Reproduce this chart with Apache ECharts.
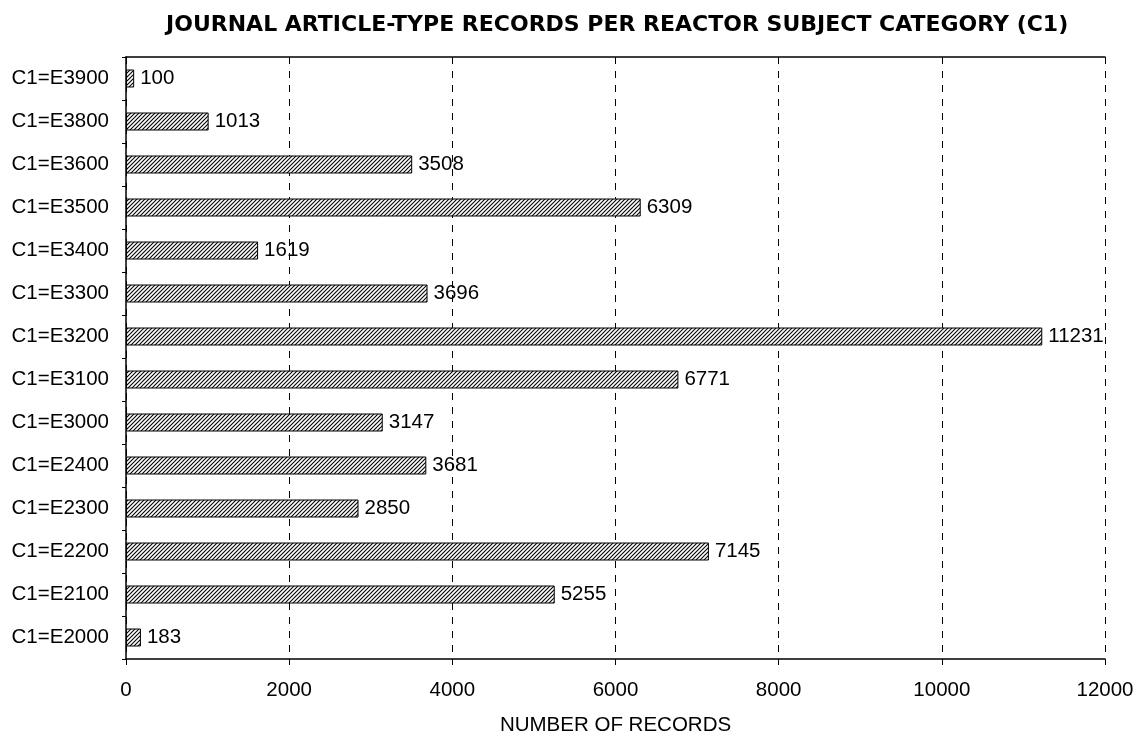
<!DOCTYPE html>
<html><head><meta charset="utf-8">
<script src="https://cdn.jsdelivr.net/npm/echarts@6/dist/echarts.min.js"></script>
<style>html,body{margin:0;padding:0;background:#fff}#c{width:1142px;height:738px}</style>
</head><body><div id="c"></div>
<script>
const categories = ['C1=E2000','C1=E2100','C1=E2200','C1=E2300','C1=E2400','C1=E3000','C1=E3100','C1=E3200','C1=E3300','C1=E3400','C1=E3500','C1=E3600','C1=E3800','C1=E3900'];
const records = [183,5255,7145,2850,3681,3147,6771,11231,3696,1619,6309,3508,1013,100];
const xTicks = {min:0, max:12000, interval:2000};

const pc = document.createElement('canvas');
pc.width = 4; pc.height = 4;
const g = pc.getContext('2d');
g.fillStyle = '#fff'; g.fillRect(0,0,4,4);
g.strokeStyle = '#000'; g.lineWidth = 1.1;
g.beginPath(); g.moveTo(-1,5); g.lineTo(5,-1); g.stroke();
g.beginPath(); g.moveTo(-1,1); g.lineTo(1,-1); g.stroke();
g.beginPath(); g.moveTo(3,5); g.lineTo(5,3); g.stroke();

const font = 'Liberation Sans, Arial, sans-serif';
const fs = 20.5;
const chart = echarts.init(document.getElementById('c'), null, {renderer:'canvas'});
chart.setOption({
  animation:false,
  backgroundColor:'#fff',
  title:{text:'JOURNAL ARTICLE-TYPE RECORDS PER REACTOR SUBJECT CATEGORY (C1)', left:161, top:9,
    textStyle:{fontFamily:'DejaVu Sans', fontSize:22, fontWeight:'bold', color:'#000'}},
  grid:{left:126, right:37, top:57, bottom:79, containLabel:false, outerBoundsMode:'none'},
  xAxis:[{type:'value', min:xTicks.min, max:xTicks.max, interval:xTicks.interval, position:'bottom',
    name:'NUMBER OF RECORDS', nameLocation:'middle', nameGap:56,
    nameTextStyle:{fontFamily:font, fontSize:fs, color:'#000'},
    axisLine:{show:true, lineStyle:{color:'#000', width:1.5}},
    axisTick:{show:true, length:6, inside:false, lineStyle:{color:'#000'}},
    axisLabel:{fontFamily:font, fontSize:fs, color:'#000', margin:21, formatter:v => String(v)},
    splitLine:{show:true, lineStyle:{color:'#000', type:[7,7], width:1}}},
   {type:'value', min:xTicks.min, max:xTicks.max, position:'top',
    axisLine:{show:true, lineStyle:{color:'#000', width:1.5}},
    axisTick:{show:false}, axisLabel:{show:false}, splitLine:{show:false}}],
  yAxis:{type:'category', data:categories,
    axisLine:{show:true, lineStyle:{color:'#000', width:1.5}},
    axisTick:{show:true, length:4, lineStyle:{color:'#000'}},
    axisLabel:{fontFamily:font, fontSize:fs, color:'#000', margin:17}},
  series:[{type:'bar', data:records, barWidth:18,
    itemStyle:{color:{image:pc, repeat:'repeat'}, borderColor:'#000', borderWidth:1},
    label:{show:true, position:'right', distance:6, fontFamily:font, fontSize:fs, color:'#000'}}]
});
</script></body></html>
